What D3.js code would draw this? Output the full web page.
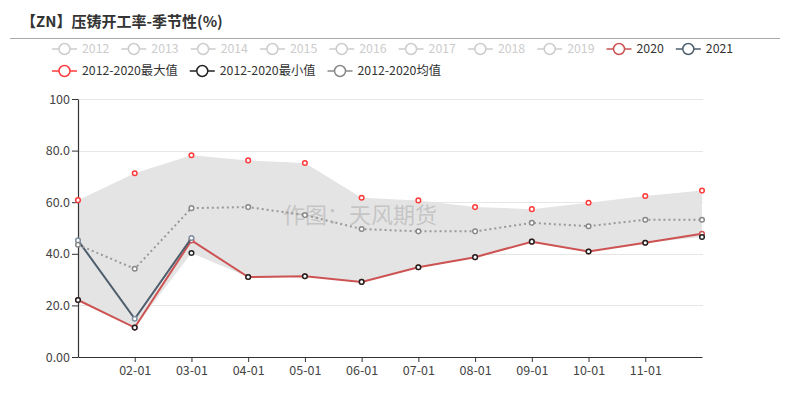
<!DOCTYPE html>
<html>
<head>
<meta charset="utf-8">
<script src="https://cdn.jsdelivr.net/npm/d3@7"></script>
<style>
  body { margin: 0; background: #fff; }
  svg text { font-family: "Noto Sans CJK SC", "Noto Sans", sans-serif; }
</style>
</head>
<body>
<div id="chart"></div>
<script>
const months = ["01-01", "02-01", "03-01", "04-01", "05-01", "06-01", "07-01", "08-01", "09-01", "10-01", "11-01", "12-01"];
const yTicks = [0, 20, 40, 60, 80, 100];
const yTickLabels = ["0.00", "20.0", "40.0", "60.0", "80.0", "100"];

const maxValues = [60.8, 71.2, 78.2, 76.2, 75.2, 61.7, 60.7, 58.1, 57.3, 59.8, 62.4, 64.5];
const minValues = [22.1, 11.4, 40.3, 31.0, 31.3, 29.1, 34.8, 38.7, 44.7, 40.9, 44.3, 46.5];
const meanValues = [43.5, 34.2, 57.7, 58.1, 55.0, 49.6, 48.7, 48.7, 52.0, 50.7, 53.2, 53.2];
const values2020 = [22.1, 11.4, 45.2, 31.0, 31.3, 29.1, 34.8, 38.7, 44.7, 40.9, 44.3, 47.8];
const values2021 = [45.2, 14.8, 46.1];

const legendRow1 = ["2012", "2013", "2014", "2015", "2016", "2017", "2018", "2019", "2020", "2021"];
const legendRow2 = ["2012-2020最大值", "2012-2020最小值", "2012-2020均值"];

const width = 790, height = 394;
const margin = { top: 99, right: 88, bottom: 37, left: 78 };

const svg = d3.select("#chart").append("svg")
    .attr("width", width)
    .attr("height", height);

// title
svg.append("text")
    .attr("x", 21)
    .attr("y", 27)
    .attr("font-size", 15)
    .attr("font-weight", "bold")
    .attr("fill", "#333")
    .text("【ZN】压铸开工率-季节性(%)");

svg.append("line")
    .attr("x1", 10).attr("x2", 780)
    .attr("y1", 38.5).attr("y2", 38.5)
    .attr("stroke", "#aaa");

const x = d3.scalePoint()
    .domain(months)
    .range([margin.left, width - margin.right]);

const y = d3.scaleLinear()
    .domain([0, 100])
    .range([height - margin.bottom, margin.top]);

// grid
svg.append("g")
    .selectAll("line")
    .data(yTicks.slice(1))
    .join("line")
    .attr("x1", margin.left)
    .attr("x2", width - margin.right + 1)
    .attr("y1", d => Math.round(y(d)) + 0.5)
    .attr("y2", d => Math.round(y(d)) + 0.5)
    .attr("stroke", "#e6e6e6");

// band between min and max
const band = months.map((m, i) => ({ m: m, lo: minValues[i], hi: maxValues[i] }));
svg.append("path")
    .datum(band)
    .attr("fill", "#e4e4e4")
    .attr("d", d3.area()
        .x(d => x(d.m))
        .y0(d => y(d.lo))
        .y1(d => y(d.hi)));

// watermark
svg.append("text")
    .attr("x", 360)
    .attr("y", 223)
    .attr("text-anchor", "middle")
    .attr("font-size", 22)
    .attr("fill", "#bdbdbd")
    .attr("fill-opacity", 0.8)
    .text("作图：天风期货");

// axes
const xAxis = svg.append("g")
    .attr("transform", `translate(0,${y(0)})`)
    .call(d3.axisBottom(x).tickValues(months.slice(1, 11)).tickSize(5).tickSizeOuter(0).tickPadding(4));
xAxis.select(".domain").attr("stroke", "#333").attr("stroke-width", 1.2);
xAxis.selectAll(".tick line").attr("stroke", "#333");
xAxis.selectAll("text").attr("font-size", 12.5).attr("fill", "#444")
    .attr("font-family", "'Noto Sans CJK SC', sans-serif");

const yAxis = svg.append("g")
    .attr("transform", `translate(${margin.left},0)`)
    .call(d3.axisLeft(y).tickValues(yTicks).tickFormat((d, i) => yTickLabels[i]).tickSize(6).tickSizeOuter(0).tickPadding(2));
yAxis.select(".domain").attr("stroke", "#333").attr("stroke-width", 1.2);
yAxis.selectAll(".tick line").attr("stroke", "#333");
yAxis.selectAll("text").attr("font-size", 12.5).attr("fill", "#444")
    .attr("font-family", "'Noto Sans CJK SC', sans-serif");

const line = d3.line()
    .x(d => x(d.m))
    .y(d => y(d.v));

function toPoints(vals) {
    return vals.map((v, i) => ({ m: months[i], v: v }));
}

function drawSeries(vals, color, opts) {
    const pts = toPoints(vals);
    if (opts.line) {
        svg.append("path")
            .datum(pts)
            .attr("fill", "none")
            .attr("stroke", color)
            .attr("stroke-width", 2)
            .attr("stroke-dasharray", opts.dash || null)
            .attr("d", line);
    }
    svg.append("g")
        .selectAll("circle")
        .data(pts)
        .join("circle")
        .attr("cx", d => x(d.m))
        .attr("cy", d => y(d.v))
        .attr("r", 2.3)
        .attr("fill", "#fff")
        .attr("stroke", opts.dot || color)
        .attr("stroke-width", 1.5);
}

const c2020 = "#cd5353";
const c2021 = "#4e5e6d";
const cMax = "#ff3b3b";
const cMin = "#222";
const cMean = "#999";

drawSeries(values2020, c2020, { line: true });
drawSeries(values2021, c2021, { line: true, dot: "#7d8ea0" });
drawSeries(meanValues, cMean, { line: true, dash: "2 3", dot: "#888" });
drawSeries(maxValues, cMax, { line: false });
drawSeries(minValues, cMin, { line: false });

// legend
const legendColors = {
    "2020": c2020, "2021": c2021,
    "2012-2020最大值": cMax, "2012-2020最小值": cMin, "2012-2020均值": "#888"
};

function legendItem(g, label, xPos, yPos) {
    const color = legendColors[label] || "#ccc";
    const active = !!legendColors[label];
    const item = g.append("g").attr("transform", `translate(${xPos},${yPos})`);
    item.append("line")
        .attr("x1", 0).attr("x2", 25)
        .attr("stroke", color).attr("stroke-width", 1.5);
    item.append("circle")
        .attr("cx", 12.5).attr("r", 5.5)
        .attr("fill", "#fff").attr("stroke", color).attr("stroke-width", 1.5);
    const t = item.append("text")
        .attr("x", 30).attr("dy", "0.35em")
        .attr("font-size", 12.3)
        .attr("fill", active ? "#333" : "#ccc")
        .text(label);
    return 30 + t.node().getComputedTextLength() + 12;
}

const legend = svg.append("g");
const legendLeft = 52;

let lx = legendLeft;
legendRow1.forEach(l => { lx += legendItem(legend, l, lx, 49); });
lx = legendLeft;
legendRow2.forEach(l => { lx += legendItem(legend, l, lx, 71); });
</script>
</body>
</html>
